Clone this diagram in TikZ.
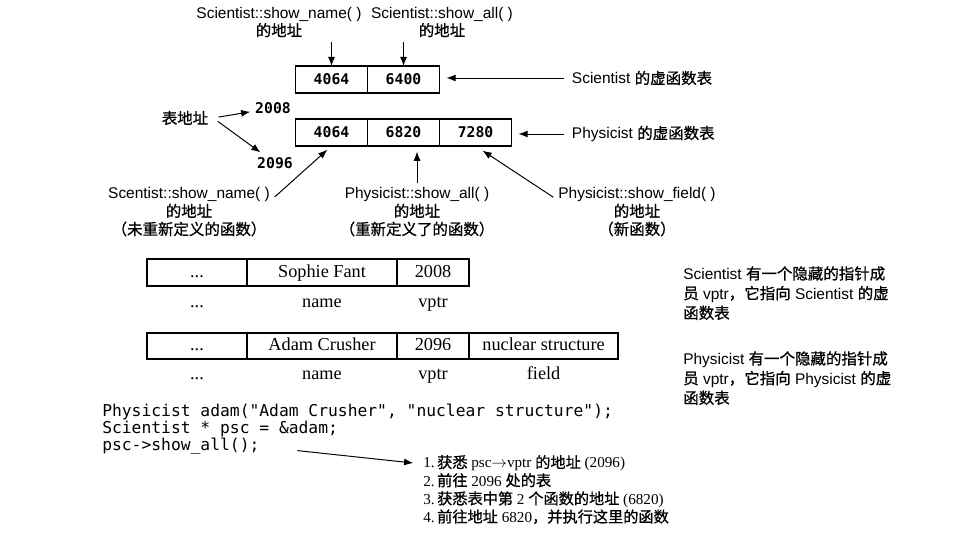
\documentclass[tikz,border=0pt]{standalone}
\usepackage{fontspec}
\setmainfont{Liberation Sans}
\setmonofont{DejaVu Sans Mono}
\newfontfamily\cjk[FakeBold=0.8]{Noto Sans CJK SC}
\newfontfamily\tms{Liberation Serif}
\usetikzlibrary{positioning, arrows.meta}

\tikzset{
  cell/.style={draw, line width=1pt, outer sep=0pt, inner sep=0pt, minimum height=0.675cm},
  vcell/.style={cell, minimum width=1.8cm, font=\fontsize{10.5}{12}\ttfamily\bfseries},
  ocell/.style={cell, font=\fontsize{13}{15}\tms, text height=9.5pt, text depth=3pt},
  olab/.style={font=\fontsize{13}{15}\tms, anchor=base},
  num/.style={font=\fontsize{10.5}{12}\ttfamily\bfseries},
  lab/.style={font=\fontsize{11}{12.8}\selectfont, align=center},
  note/.style={font=\fontsize{11}{14}\selectfont, align=left, anchor=north west, inner sep=0pt},
  code/.style={font=\fontsize{11.6}{11.7}\ttfamily, inner sep=0pt, text height=8.5pt, text depth=3.2pt, anchor=north west},
  stepline/.style={font=\fontsize{10.8}{12.5}\tms, inner sep=0pt, text height=9pt, text depth=3.5pt, anchor=north west},
  arr/.style={-{Latex[length=6.5pt, width=5pt]}, line width=0.7pt},
}

\begin{document}
\begin{tikzpicture}[x=0.025cm, y=-0.025cm]
    \path[fill=white] (0,0) rectangle (974,541);

    % Virtual tables
    \node (s1) [vcell] at (331.5,79.5) {4064};
    \node (s2) [vcell, right=0pt of s1] {6400};
    \node (p1) [vcell] at (331.5,132.5) {4064};
    \node (p2) [vcell, right=0pt of p1] {6820};
    \node (p3) [vcell, right=0pt of p2] {7280};

    % Labels above
    \node (tname) [lab] at (279,22) {Scientist::show\_name( )\\{\cjk 的地址}};
    \node (tall) [lab] at (442,22) {Scientist::show\_all( )\\{\cjk 的地址}};
    \draw[arr] (tname.south -| s1) -- (s1);
    \draw[arr] (tall.south -| s2) -- (s2);

    % Table names
    \node (slab) [lab, anchor=west] at (567,78) {Scientist {\cjk 的虚函数表}};
    \node (plab) [lab, anchor=west] at (567,134) {Physicist {\cjk 的虚函数表}};
    \draw[arr, shorten <=2pt, shorten >=5pt] (slab.west) -- (slab.west -| s2.east);
    \draw[arr, shorten <=2pt, shorten >=5pt] (plab.west) -- (plab.west -| p3.east);

    % Table addresses
    \node (taddr) [lab] at (185,118) {\cjk 表地址};
    \node (a2008) [num] at (273,108) {2008};
    \node (a2096) [num] at (275,163) {2096};
    \draw[arr, shorten <=4pt] (taddr.east) -- (a2008);
    \draw[arr, shorten <=4pt] (taddr.east) -- (a2096);

    % Labels below
    \node (bname) [lab] at (189,212) {Scentist::show\_name( )\\{\cjk 的地址}\\{\cjk （未重新定义的函数）}};
    \node (ball) [lab] at (417,212) {Physicist::show\_all( )\\{\cjk 的地址}\\{\cjk （重新定义了的函数）}};
    \node (bfield) [lab] at (637,212) {Physicist::show\_field( )\\{\cjk 的地址}\\{\cjk （新函数）}};
    \draw[arr, shorten >=4pt] (bname.10) -- (p1.south);
    \draw[arr, shorten >=4pt] (ball.north) -- (ball.north |- p2.south);
    \draw[arr, shorten >=6pt] (bfield.170) -- (p3.south);

    % Scientist object
    \node (o1) [ocell, minimum width=2.5cm] at (197,272.5) {...};
    \node (o2) [ocell, minimum width=3.75cm, right=0pt of o1] {Sophie Fant};
    \node (o3) [ocell, minimum width=1.8cm, right=0pt of o2] {2008};
    \node (o1l) [below=0.525cm of o1, olab] {...};
    \node (o2l) [below=0.525cm of o2, olab] {name};
    \node (o3l) [below=0.525cm of o3, olab] {vptr};

    % Physicist object
    \node (q1) [ocell, minimum width=2.5cm, minimum height=0.65cm] at (197,346) {...};
    \node (q2) [ocell, minimum width=3.75cm, minimum height=0.65cm, right=0pt of q1] {Adam Crusher};
    \node (q3) [ocell, minimum width=1.8cm, minimum height=0.65cm, right=0pt of q2] {2096};
    \node (q4) [ocell, minimum width=3.725cm, minimum height=0.65cm, right=0pt of q3] {nuclear structure};
    \node (q1l) [below=0.5cm of q1, olab] {...};
    \node (q2l) [below=0.5cm of q2, olab] {name};
    \node (q3l) [below=0.5cm of q3, olab] {vptr};
    \node (q4l) [below=0.5cm of q4, olab] {field};

    % Notes
    \node (snote) [note] at (683,266) {Scientist {\cjk 有一个隐藏的指针成}\\{\cjk 员} vptr{\cjk ，它指向} Scientist {\cjk 的虚}\\{\cjk 函数表}};
    \node (pnote) [note] at (683,351) {Physicist {\cjk 有一个隐藏的指针成}\\{\cjk 员} vptr{\cjk ，它指向} Physicist {\cjk 的虚}\\{\cjk 函数表}};

    % Code
    \node (c1) [code] at (102,404) {Physicist adam("Adam Crusher", "nuclear structure");};
    \node (c2) [code, below=0pt of c1.south west, anchor=north west] {Scientist * psc = \&adam;};
    \node (c3) [code, below=0pt of c2.south west, anchor=north west] {psc->show\_all();};

    % Steps
    \node (l1) [stepline] at (423,455) {1.\,{\cjk 获悉} psc$\rightarrow$vptr {\cjk 的地址} (2096)};
    \node (l2) [stepline, below=0pt of l1.south west, anchor=north west] {2.\,{\cjk 前往} 2096 {\cjk 处的表}};
    \node (l3) [stepline, below=0pt of l2.south west, anchor=north west] {3.\,{\cjk 获悉表中第} 2 {\cjk 个函数的地址} (6820)};
    \node (l4) [stepline, below=0pt of l3.south west, anchor=north west] {4.\,{\cjk 前往地址} 6820{\cjk ，并执行这里的函数}};
    \draw[arr, shorten <=27pt, shorten >=7pt] (c3.east) -- (l1.west);
\end{tikzpicture}
\end{document}
